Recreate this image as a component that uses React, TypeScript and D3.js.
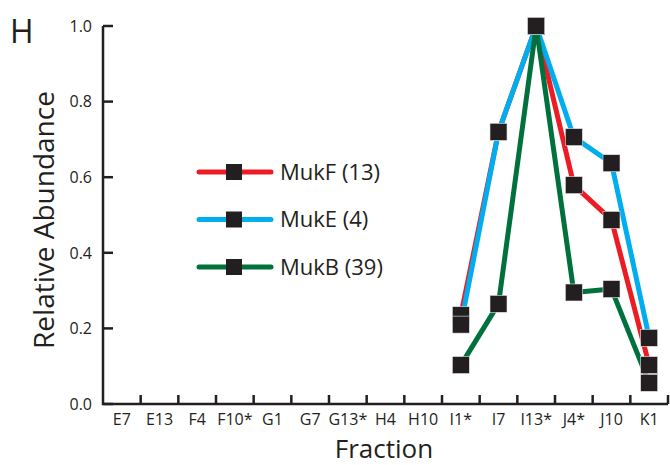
import React from "react";
import * as d3 from "d3";

const categories = ["E7", "E13", "F4", "F10*", "G1", "G7", "G13*", "H4", "H10", "I1*", "I7", "I13*", "J4*", "J10", "K1"];
const dataCategories = ["I1*", "I7", "I13*", "J4*", "J10", "K1"];
const mukF = [0.235, 0.72, 1.0, 0.579, 0.487, 0.103];
const mukE = [0.21, 0.72, 1.0, 0.706, 0.637, 0.175];
const mukB = [0.103, 0.265, 1.0, 0.295, 0.304, 0.056];
const yTicks = [0.0, 0.2, 0.4, 0.6, 0.8, 1.0];
const seriesNames = ["MukF (13)", "MukE (4)", "MukB (39)"];
const seriesColors = ["#ed1c24", "#00aeef", "#00703c"];

const W = 670;
const H = 465;
const FONT = "'Open Sans', 'Noto Sans', sans-serif";
const INK = "#231f20";

export default function App() {
  const x = d3.scaleBand<string>().domain(categories).range([103, 668]).paddingInner(0).paddingOuter(0);
  const y = d3.scaleLinear().domain([0, 1]).range([404, 26]);
  const series = [mukF, mukE, mukB];
  const line = d3
    .line<number>()
    .x((_, i) => (x(dataCategories[i]) as number) + x.bandwidth() / 2)
    .y((v) => y(v));
  const drawOrder = [0, 1, 2];
  const ms = 17;
  const boundaries = categories.slice(1).map((c) => x(c) as number).concat([668]);

  return (
    <div style={{ position: "absolute", left: 0, top: 0 }}>
      <svg width={W} height={H} style={{ display: "block", background: "#fff" }}>
        <text x={10} y={43} fontFamily={FONT} fontSize={32} fill={INK}>H</text>
        {/* axes */}
        <path d={`M103,${y(1)} V404 H668`} fill="none" stroke={INK} strokeWidth={2.5} />
        {yTicks.map((t) => (
          <g key={"yt" + t}>
            <line x1={103} x2={113} y1={y(t)} y2={y(t)} stroke={INK} strokeWidth={2.5} />
            <text x={92} y={y(t)} dy="0.36em" textAnchor="end" fontFamily={FONT} fontSize={16} fill={INK}>
              {t.toFixed(1)}
            </text>
          </g>
        ))}
        {boundaries.map((b, i) => (
          <line key={"xt" + i} x1={b} x2={b} y1={404} y2={395} stroke={INK} strokeWidth={2.5} />
        ))}
        {categories.map((c) => (
          <text key={"xl" + c} x={(x(c) as number) + x.bandwidth() / 2} y={425} textAnchor="middle" fontFamily={FONT} fontSize={16} fill={INK}>
            {c}
          </text>
        ))}
        <text x={384} y={458} textAnchor="middle" fontFamily={FONT} fontSize={26} fill={INK}>Fraction</text>
        <text transform={`translate(54,${220}) rotate(-90)`} textAnchor="middle" fontFamily={FONT} fontSize={28} fill={INK}>
          Relative Abundance
        </text>
        {/* lines */}
        {drawOrder.map((si) => (
          <path key={"l" + si} d={line(series[si]) || ""} fill="none" stroke={seriesColors[si]} strokeWidth={5} strokeLinejoin="round" />
        ))}
        {drawOrder.map((si) =>
          series[si].map((v, i) => (
            <rect
              key={"m" + si + "-" + i}
              x={(x(dataCategories[i]) as number) + x.bandwidth() / 2 - ms / 2}
              y={y(v) - ms / 2}
              width={ms}
              height={ms}
              fill={INK}
              stroke="#e6e6e6"
              strokeWidth={0.6}
            />
          ))
        )}
        {/* legend */}
        {seriesNames.map((n, i) => {
          const ly = 172 + i * 47.5;
          return (
            <g key={"lg" + i}>
              <line x1={199} x2={271} y1={ly} y2={ly} stroke={seriesColors[i]} strokeWidth={5} strokeLinecap="round" />
              <rect x={234 - 8} y={ly - 8} width={16} height={16} fill={INK} />
              <text x={280} y={ly} dy="0.36em" fontFamily={FONT} fontSize={22} fill={INK}>{n}</text>
            </g>
          );
        })}
      </svg>
    </div>
  );
}
